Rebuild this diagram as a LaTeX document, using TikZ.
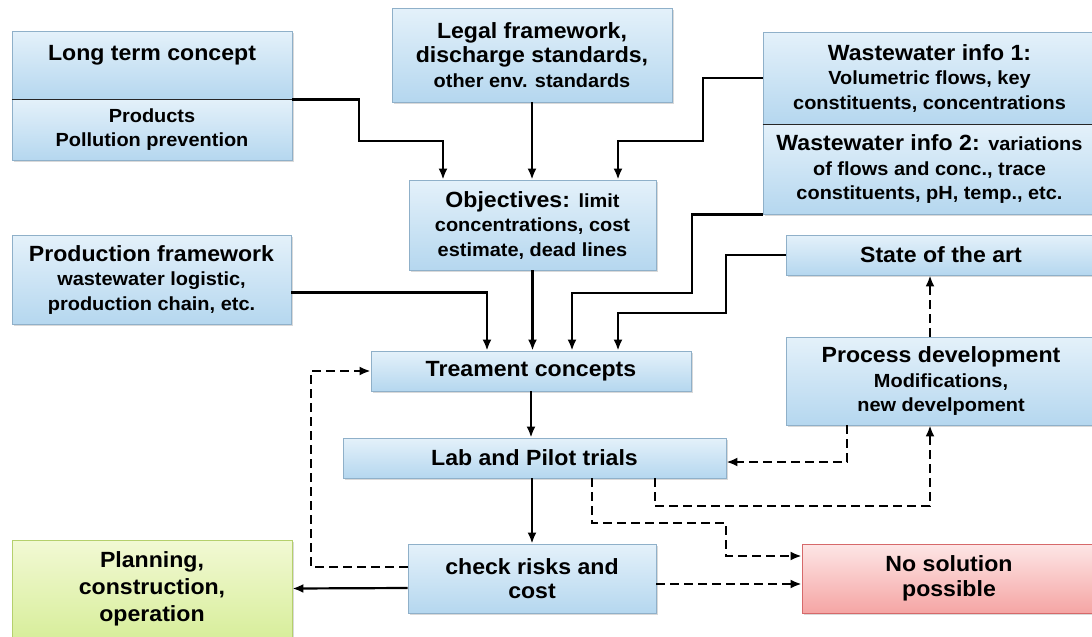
\documentclass[tikz,border=0pt]{standalone}
\usepackage{fontspec}
\setmainfont{Liberation Sans}[FakeStretch=1.05]
\usetikzlibrary{arrows.meta,shadows}

\definecolor{boxtop}{HTML}{E4F1FA}
\definecolor{boxbot}{HTML}{B5D7EF}
\definecolor{boxline}{HTML}{8FB0C9}
\definecolor{goodtop}{HTML}{F2F9D4}
\definecolor{goodbot}{HTML}{D8EE9C}
\definecolor{goodline}{HTML}{B5D06C}
\definecolor{badtop}{HTML}{FDE6E6}
\definecolor{badbot}{HTML}{F5A5A4}
\definecolor{badline}{HTML}{D6696A}

\newcommand{\headsize}{\fontsize{22}{24.5}\selectfont}
\newcommand{\subsize}{\fontsize{19}{24.5}\selectfont}

\begin{document}
\begin{tikzpicture}[x=1pt, y=-1pt, font=\bfseries\headsize]

\tikzset{box/.style = {draw=boxline, line width=0.8pt, top color=boxtop, bottom color=boxbot, align=center, inner sep=2pt,
  drop shadow={shadow xshift=1.5pt, shadow yshift=-2pt, opacity=0.3}}}
\tikzset{goodbox/.style = {box, draw=goodline, top color=goodtop, bottom color=goodbot}}
\tikzset{badbox/.style = {box, draw=badline, top color=badtop, bottom color=badbot}}
\tikzset{edge/.style = {->, > = {Latex[length=11pt,width=9pt]}, line width=2.2pt}}
\tikzset{dashedge/.style = {edge, dash pattern=on 9pt off 5pt}}
\tikzset{divider/.style = {draw=black!85, line width=1.6pt}}

\useasboundingbox (0,0) rectangle (1092,637);

\node[box, minimum width=280pt, minimum height=68pt, text depth=23.6pt] (lt) at (152,65) {Long term concept};
\node[box, minimum width=280pt, minimum height=61pt, font=\bfseries\subsize] (ltsub) at (152,129.5) {Products\\Pollution prevention};
\node[box, minimum width=280pt, minimum height=94pt] (legal) at (532,55) {Legal framework,\\discharge standards,\\{\subsize other env. standards}};
\node[box, minimum width=247pt, minimum height=90pt] (obj) at (532.5,225) {Objectives: {\subsize limit}\\{\subsize concentrations, cost}\\{\subsize estimate, dead lines}};
\node[box, minimum width=333pt, minimum height=92pt] (ww1) at (929.5,78) {Wastewater info 1:\\{\subsize Volumetric flows, key}\\{\subsize constituents, concentrations}};
\node[box, minimum width=333pt, minimum height=90pt] (ww2) at (929.5,169) {Wastewater info 2: {\subsize variations}\\{\subsize of flows and conc., trace}\\{\subsize constituents, pH, temp., etc.}};
\node[box, minimum width=310pt, minimum height=40pt] (state) at (941,255) {State of the art};
\node[box, minimum width=279pt, minimum height=89pt] (prod) at (151.5,279.5) {Production framework\\{\subsize wastewater logistic,}\\{\subsize production chain, etc.}};
\node[box, minimum width=320pt, minimum height=40pt] (treat) at (531,371) {Treament concepts};
\node[box, minimum width=310pt, minimum height=88pt] (proc) at (941,381) {Process development\\{\subsize Modifications,}\\{\subsize new develpoment}};
\node[box, minimum width=383pt, minimum height=40pt] (lab) at (534.5,458) {Lab and Pilot trials};
\node[box, minimum width=248pt, minimum height=69pt] (check) at (532,578.5) {check risks and\\cost};
\node[goodbox, minimum width=280pt, minimum height=97pt, font=\bfseries\fontsize{22}{27}\selectfont] (plan) at (152,588.5) {Planning,\\construction,\\operation};
\node[badbox, minimum width=294pt, minimum height=69pt] (nosol) at (949,578.5) {No solution\\possible};

\draw[divider] (lt.south west) -- (lt.south east);
\draw[divider] (ww1.south west) -- (ww1.south east);

% inputs to the objectives
\draw[edge] (lt.south east) -| (359,141) -| ([xshift=-89.5pt]obj.north);
\draw[edge] (legal.south) -- (legal.south |- obj.north);
\draw[edge] (ww1.west) -| (703,141) -| ([xshift=85.5pt]obj.north);

% inputs to the treatment concepts
\draw[edge] ([yshift=-13pt]prod.east) -| ([xshift=-44pt]treat.north);
\draw[edge] (obj.south) -- (obj.south |- treat.north);
\draw[edge] (ww2.south west) -| (692,293) -| ([xshift=41pt]treat.north);
\draw[edge] (state.west) -| (726,313) -| ([xshift=87pt]treat.north);

\draw[edge] (treat.south) -- (treat.south |- lab.north);
\draw[edge] (check.north |- lab.south) -- (check.north);
\draw[edge] ([yshift=-9.5pt]check.west) -- (plan.east);

% feedback loops
\draw[dashedge] ([xshift=-11pt]proc.north) -- ([xshift=-11pt]state.south);
\draw[dashedge] ([xshift=-94pt]proc.south) |- ([yshift=-4pt]lab.east);
\draw[dashedge] ([xshift=120.5pt]lab.south) |- (930,506) -- ([xshift=-11pt]proc.south);
\draw[dashedge] ([xshift=57.5pt]lab.south) |- (726,523) |- ([yshift=22.5pt]nosol.west);
\draw[dashedge] ([yshift=-5.5pt]check.east) -- ([yshift=-5.5pt]nosol.west);
\draw[dashedge] ([yshift=11.5pt]check.west) -| (311,371) -- (treat.west);

\end{tikzpicture}
\end{document}
